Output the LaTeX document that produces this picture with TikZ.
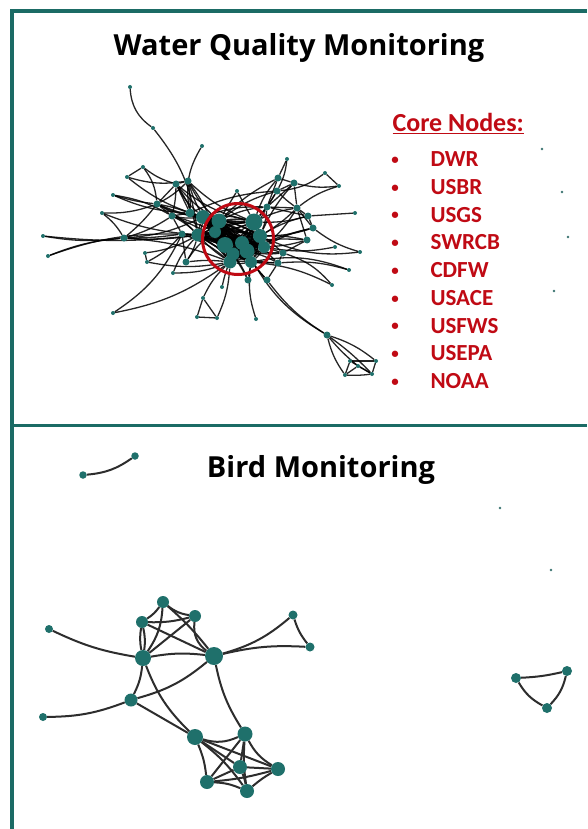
\documentclass[tikz,border=0pt]{standalone}
\usepackage{fontspec}
\setmainfont{Open Sans}
\newfontfamily\listfont{Carlito}
\pgfdeclarelayer{bg}
\pgfsetlayers{bg,main}
\definecolor{frameteal}{RGB}{27,107,101}
\definecolor{nodeteal}{RGB}{31,112,107}
\definecolor{corered}{RGB}{192,10,20}
\definecolor{edgegray}{RGB}{45,45,45}
\tikzset{
  nd/.style={circle, fill=nodeteal, inner sep=0pt},
  wqs/.style={nd, minimum size=4pt},
  wqm/.style={nd, minimum size=7pt},
  dot/.style={circle, fill=nodeteal!70!gray, inner sep=0pt, minimum size=2.6pt},
  wqe/.style={draw=black, line width=1.3pt, opacity=0.85},
  bde/.style={draw=edgegray, line width=2pt},
  ttl/.style={font=\bfseries\fontsize{29}{35}\selectfont, text=black},
  lst/.style={font=\listfont\bfseries\fontsize{23}{27}\selectfont, text=corered},
}
\begin{document}
\begin{tikzpicture}[x=1pt,y=-1pt]
\useasboundingbox (0,0) rectangle (587,829);
% frame
\draw[frameteal, line width=3.5pt] (12,829) -- (12,10.8) -- (587,10.8);
\draw[frameteal, line width=3.8pt] (12,425.5) -- (587,425.5);

% titles
\node[ttl] (t1) at (299,48) {Water Quality Monitoring};
\node[ttl] (t2) at (321,470) {Bird Monitoring};

% core node list
\node[lst, anchor=base west, font=\listfont\bfseries\fontsize{26}{31}\selectfont] (core) at (389,131.5) {\underline{Core Nodes:}};
\foreach \t [count=\i from 0] in {DWR,USBR,USGS,SWRCB,CDFW,USACE,USFWS,USEPA,NOAA}{
  \node[lst, anchor=base, font=\listfont\bfseries\fontsize{15}{18}\selectfont] (b\i) at (395,164.5+27.7*\i) {•};
  \node[lst, anchor=base west] (it\i) at (427,166.8+27.7*\i) {\t};
}

% isolated dots
\node[dot] (d1) at (542,149) {};
\node[dot] (d2) at (562,192) {};
\node[dot] (d3) at (568,237) {};
\node[dot] (d4) at (554,291) {};
\node[dot] (d5) at (500,508) {};
\node[dot] (d6) at (551,570) {};

% ---------------- water quality network ----------------
% core
\node[nd, minimum size=14pt] (k1) at (203,217) {};
\node[nd, minimum size=15pt] (k2) at (219,221) {};
\node[nd, minimum size=12pt] (k3) at (215,232) {};
\node[nd, minimum size=13pt] (k4) at (198,235) {};
\node[nd, minimum size=17pt] (k5) at (254,222) {};
\node[nd, minimum size=16pt] (k6) at (225,245) {};
\node[nd, minimum size=14pt] (k7) at (242,243) {};
\node[nd, minimum size=13pt] (k8) at (233,254) {};
\node[nd, minimum size=14pt] (k9) at (260,236) {};
\node[nd, minimum size=12pt] (k10) at (264,247) {};
\node[nd, minimum size=15pt] (k11) at (247,251) {};
\node[nd, minimum size=12pt] (k12) at (251,262) {};
\node[nd, minimum size=13pt] (k13) at (230,262) {};
% medium
\node[wqm] (L1) at (176,184) {};
\node[wqm] (L2) at (188,181) {};
\node[wqm] (L3) at (172,216) {};
\node[wqm] (L4) at (157,204) {};
\node[wqm] (L5) at (182,234) {};
\node[wqm] (L6) at (124,238) {};
\node[nd, minimum size=9pt] (L7) at (190,213) {};
\node[wqm] (L8) at (186,262) {};
\node[wqm] (R1) at (267,207) {};
\node[wqm] (R2) at (297,208) {};
\node[wqm] (R3) at (278,178) {};
\node[wqm] (R4) at (294,183) {};
\node[wqm] (R5) at (277,191) {};
\node[wqm] (R6) at (283,253) {};
\node[wqm] (R7) at (278,263) {};
\node[wqm] (R8) at (248,280) {};
\node[wqm] (R9) at (267,280) {};
\node[wqm] (R10) at (307,240) {};
\node[wqm] (R11) at (308,216) {};
\node[wqm] (R12) at (313,228) {};
% small
\node[wqs] (s1) at (130,87) {};
\node[wqs] (s2) at (153,128) {};
\node[wqs] (s3) at (202,146) {};
\node[wqs] (s4) at (143,167) {};
\node[wqs] (s5) at (127,177) {};
\node[wqs] (s6) at (113,195) {};
\node[wqs] (s7) at (102,213) {};
\node[wqs] (s8) at (43,236) {};
\node[wqs] (s9) at (48,256) {};
\node[wqs] (s10) at (145,253) {};
\node[wqs] (s11) at (147,262) {};
\node[wqs] (s12) at (173,273) {};
\node[wqs] (s13) at (113,313) {};
\node[wqs] (s14) at (203,298) {};
\node[wqs] (s15) at (197,317) {};
\node[wqs] (s16) at (217,318) {};
\node[wqs] (s17) at (222,287) {};
\node[wqs] (s18) at (256,319) {};
\node[wqs] (s19) at (237,191) {};
\node[wqs] (s20) at (287,159) {};
\node[wqs] (s21) at (325,173) {};
\node[wqs] (s22) at (339,186) {};
\node[wqs] (s23) at (355,213) {};
\node[wqs] (s24) at (360,252) {};
\node[wqs] (s25) at (335,247) {};
\node[wqs] (s26) at (349,270) {};
\node[wqs] (s27) at (332,285) {};
\node[wqm] (s28) at (327,335) {};
\node[wqs] (q1) at (345,375) {};
\node[wqs] (q2) at (358,366) {};
\node[wqs] (q3) at (372,374) {};
\node[wqs] (q4) at (376,361) {};
\node[wqs] (q5) at (350,361) {};

% red circle
\node[draw=corered, line width=3pt, circle, minimum size=71pt, inner sep=0pt] (ring) at (238,239) {};

\begin{pgfonlayer}{bg}
\fill[white] (0,0) rectangle (587,829);
\foreach \i in {1,...,12}{
  \pgfmathtruncatemacro\js{\i+1}
  \foreach \j in {\js,...,13}{
    \draw[wqe] (k\i) to[bend left=10] (k\j);
    \draw[wqe] (k\i) to[bend right=6] (k\j);
  }
}
\foreach \a/\b/\c in {
  L1/k1/-10, L1/k2/-8, L1/k4/10, L1/L7/0, L1/L2/0, L1/k5/-12, L1/L3/6,
  L2/k1/-5, L2/k2/-10, L2/k3/8, L2/k5/-10, L2/L7/5, L2/L4/8,
  L3/k1/-8, L3/k4/8, L3/k3/5, L3/L7/0, L3/k6/6,
  L4/k1/-10, L4/k4/8, L4/k2/-6, L4/L1/0, L4/L7/4, L4/L3/0,
  L5/k4/0, L5/k6/8, L5/k13/10, L5/k3/-6, L5/L3/0,
  L6/k4/-6, L6/L5/-4, L6/L3/-8, L6/k1/-10, L6/k13/8, L6/L4/-6,
  L7/k2/0, L7/k3/5, L7/k6/8, L7/k9/-8, L7/k5/-6,
  L8/k4/-8, L8/k13/6, L8/k3/10, L8/L5/0,
  R1/k5/0, R1/k9/8, R1/k2/-10, R1/k7/6, R1/k1/-10, R1/R5/0,
  R2/k5/-8, R2/k9/6, R2/k10/8, R2/R1/0, R2/R11/0, R2/R5/5,
  R3/k5/-10, R3/R1/0, R3/k2/-8,
  R4/R1/0, R4/k9/-8, R4/R2/0,
  R5/k5/5, R5/k2/-10, R5/L7/-10,
  R6/k10/0, R6/k11/8, R6/k9/-6, R6/k6/6, R6/R10/0,
  R7/k12/0, R7/k11/-6, R7/k10/6, R7/k8/8, R7/R6/0,
  R8/k12/0, R8/k8/-6, R9/k12/0, R9/k11/8, R8/k6/-5, R9/R7/0,
  R10/k9/-6, R10/k10/6, R10/R2/0, R10/k7/-6,
  R11/R1/0, R11/k5/8, R11/k9/-8, R11/R12/0,
  R12/k10/-8, R12/k9/8, R12/R2/0, R12/k11/-6,
  s1/s2/-25, s2/k4/15, s3/L7/-20,
  s4/s5/0, s4/L1/-10, s4/L4/15, s5/L2/-12, s5/k1/-10,
  s6/L4/-5, s6/L7/-10, s6/L3/10,
  s7/L6/10, s7/L4/-10, s7/k4/-8,
  s8/L6/-8, s8/k4/-6, s9/L6/8, s9/L5/10,
  s10/s11/0, s10/k4/-10, s11/L5/-10, s11/k13/-10,
  s12/k4/10, s12/k13/-10, s13/L5/-15, s13/k13/-12,
  s14/s15/0, s15/s16/0, s14/k13/10, s16/k13/-10, s14/s16/0,
  s17/k8/5, s18/k12/12, s19/k2/0, s19/k5/0,
  s20/R3/0, s20/R5/10, R3/R4/0, R4/R5/0,
  s21/s22/0, s21/R5/15, s22/R2/-10, s22/R4/10,
  s23/R11/0, s24/k9/15, s24/R12/10, s25/k10/10,
  s26/k12/-15, s26/R7/-10, s27/R6/-15, s27/k12/-10,
  s28/R9/10, s28/k11/15,
  s28/q1/-10, s28/q2/-5, s28/q3/5, s28/q4/10,
  q1/q2/0, q2/q3/0, q3/q4/0, q1/q5/0, q5/q4/0, q5/q3/0, q1/q3/-5}{
  \draw[wqe] (\a) to[bend left=\c] (\b);
}
\end{pgfonlayer}

% ---------------- bird network ----------------
\node[nd, minimum size=12pt] (A) at (163,602) {};
\node[nd, minimum size=12pt] (B) at (142,622) {};
\node[nd, minimum size=12pt] (C) at (195,616) {};
\node[nd, minimum size=8pt] (D) at (49,629) {};
\node[nd, minimum size=16pt] (E) at (143,658) {};
\node[nd, minimum size=18pt] (F) at (214,656) {};
\node[nd, minimum size=9pt] (G) at (293,615) {};
\node[nd, minimum size=9pt] (H) at (310,647) {};
\node[nd, minimum size=13pt] (I) at (131,700) {};
\node[nd, minimum size=8pt] (J) at (43,717) {};
\node[nd, minimum size=16pt] (K) at (195,737) {};
\node[nd, minimum size=15pt] (L) at (245,734) {};
\node[nd, minimum size=14pt] (M) at (240,767) {};
\node[nd, minimum size=14pt] (N) at (278,769) {};
\node[nd, minimum size=14pt] (O) at (207,782) {};
\node[nd, minimum size=14pt] (P) at (247,791) {};
\node[nd, minimum size=10pt] (T1) at (516,678) {};
\node[nd, minimum size=10pt] (T2) at (567,671) {};
\node[nd, minimum size=10pt] (T3) at (547,708) {};
\node[nd, minimum size=7.5pt] (Q1) at (83,475) {};
\node[nd, minimum size=7.5pt] (Q2) at (135,456) {};

\begin{pgfonlayer}{bg}
\foreach \a/\b/\c in {
  A/B/10, A/C/-15, A/E/15, A/F/5, B/C/-8, B/E/10, B/E/-10, B/F/0,
  C/E/0, C/F/-30, D/E/-8, E/F/8, E/I/10, E/K/-12, I/F/-12, I/J/10,
  I/K/0, F/G/-12, F/H/8, G/H/-10, F/L/-10,
  K/L/-20, K/M/0, K/O/8, K/P/8, K/N/0, L/M/0, L/O/0, L/N/-15, L/P/-6,
  M/N/0, M/O/0, M/P/5, O/P/10, O/N/-5, N/P/-5,
  T1/T2/-5, T1/T3/-15, T2/T3/15, Q1/Q2/-15}{
  \draw[bde] (\a) to[bend left=\c] (\b);
}
\end{pgfonlayer}
\end{tikzpicture}
\end{document}
